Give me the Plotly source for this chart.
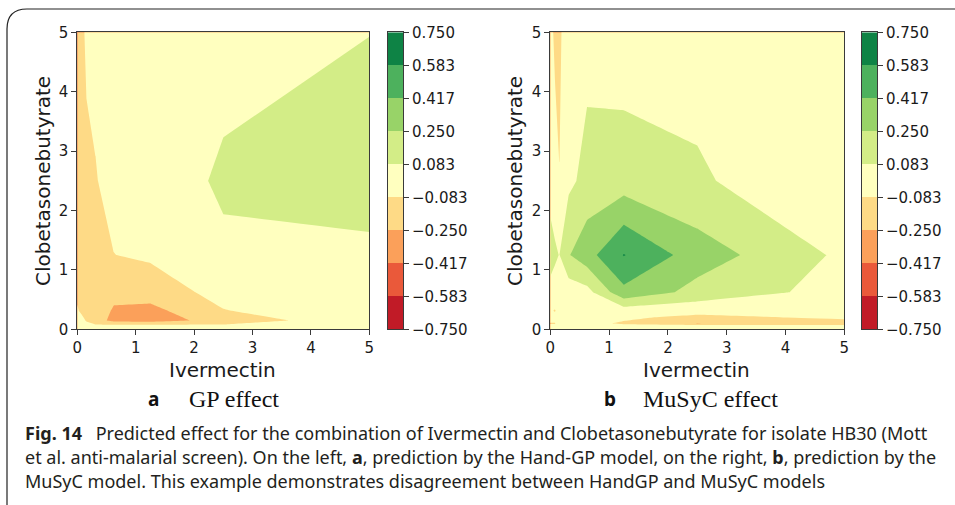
import plotly.graph_objects as go

W, H = 955, 505

# ---------------- data ----------------
# GP effect (panel a): grid of Ivermectin (x) and Clobetasonebutyrate (y)
GP_X = [0, 0.078, 0.156, 0.3125, 0.625, 1.25, 2.5, 5]
GP_Y = [0, 0.075, 0.15, 0.3125, 0.625, 1.25, 2.5, 5]
GP_Z = [
    [0.0, 0.0, 0.0, 0.0, 0.0, 0.0, 0.0, 0.0],
    [-0.02, -0.04, -0.06, -0.075, -0.08, -0.08, -0.075, -0.01],
    [-0.03, -0.06, -0.09, -0.17, -0.30, -0.32, -0.19, 0.05],
    [-0.075, -0.10, -0.12, -0.15, -0.27, -0.30, -0.09, 0.03],
    [-0.10, -0.12, -0.13, -0.15, -0.20, -0.17, -0.03, 0.04],
    [-0.11, -0.12, -0.12, -0.12, -0.085, -0.06, 0.063, 0.049],
    [-0.11, -0.11, -0.10, -0.09, -0.04, 0.02, 0.10, 0.16],
    [-0.09, -0.10, -0.07, -0.05, -0.02, 0.0, 0.043, 0.081],
]

# MuSyC effect (panel b)
MU_X = [0, 0.078, 0.156, 0.3125, 0.625, 1.25, 2.5, 5]
MU_Y = [0, 0.07, 0.1, 0.2, 0.3125, 0.625, 1.25, 2.5, 5]
MU_Z = [
    [0.0, 0.0, 0.0, 0.0, 0.0, 0.0, 0.0, 0.0],
    [-0.07, -0.07, -0.05, -0.03, -0.04, -0.07, -0.08, -0.08],
    [-0.09, -0.09, -0.04, -0.02, -0.05, -0.10, -0.26, -0.14],
    [-0.02, -0.03, -0.03, -0.02, -0.04, -0.06, -0.12, -0.06],
    [-0.06, -0.095, -0.02, -0.01, -0.02, 0.005, -0.03, -0.04],
    [0.056, 0.04, 0.02, -0.012, 0.027, 0.374, 0.196, 0.017],
    [0.12, 0.10, 0.08, 0.24, 0.355, 0.59, 0.333, 0.049],
    [0.049, 0.02, -0.078, 0.046, 0.133, 0.166, 0.10, -0.03],
    [0.0, -0.13, -0.12, 0.05, 0.033, -0.008, 0.03, 0.0],
]

LEVELS = [-0.75, -0.5833, -0.4167, -0.25, -0.0833, 0.0833, 0.25, 0.4167, 0.5833, 0.75]
LEVEL_LABELS = ["\u22120.750", "\u22120.583", "\u22120.417", "\u22120.250", "\u22120.083",
                "0.083", "0.250", "0.417", "0.583", "0.750"]
BAND_COLORS = ["#c11b27", "#ea593a", "#fba05a", "#feda86", "#ffffbf",
               "#d3ed87", "#98d368", "#4db15d", "#0e8345"]
BAND_INDEX = [0, 1, 2, 3, 4, 5, 6, 7, 8]
AXIS_TICKS = [0, 1, 2, 3, 4, 5]

X_TITLE = "Ivermectin"
Y_TITLE = "Clobetasonebutyrate"
CAPTION = [
    "<b>Fig. 14</b>\u2002 Predicted effect for the combination of Ivermectin and Clobetasonebutyrate for isolate HB30 (Mott",
    "et al. anti-malarial screen). On the left, <b>a</b>, prediction by the Hand-GP model, on the right, <b>b</b>, prediction by the",
    "MuSyC model. This example demonstrates disagreement between HandGP and MuSyC models",
]

# ---------------- styling helpers ----------------
def px(x):
    return x / W

def py(y):
    return 1 - y / H

# stepped colour scale (constant colour on each band)
edges = [0, 0.13, 0.24, 0.345, 0.45, 0.55, 0.655, 0.76, 0.865, 1]
CS = []
for k, c in enumerate(BAND_COLORS):
    CS.append([edges[k], c])
    CS.append([edges[k + 1], c])

TICK_FONT = dict(family="DejaVu Sans", size=15, color="#1a1a1a")
LINE_C = "#3a3a3a"

fig = go.Figure()

panels = [
    dict(X=GP_X, Y=GP_Y, Z=GP_Z, xa="x", ya="y", cxa="x2", cya="y2",
         dom=(77.3, 369.3), cdom=(388, 403)),
    dict(X=MU_X, Y=MU_Y, Z=MU_Z, xa="x3", ya="y3", cxa="x4", cya="y4",
         dom=(550.3, 844.3), cdom=(862, 877)),
]
ydom = [py(329.3), py(32.3)]

layout_axes = {}
for i, p in enumerate(panels):
    fig.add_trace(go.Contour(
        x=p["X"], y=p["Y"], z=p["Z"], xaxis=p["xa"], yaxis=p["ya"],
        colorscale=CS, zmin=-0.75, zmax=0.75, zauto=False,
        autocontour=False,
        contours=dict(start=-0.75, end=0.75, size=1.5 / 9, coloring="fill", showlines=False),
        line=dict(width=0, smoothing=0),
        showscale=False, hoverinfo="skip",
    ))
    # colour bar drawn as heatmap on its own axes
    fig.add_trace(go.Heatmap(
        x=[0], y=LEVELS, z=[[b] for b in BAND_INDEX],
        xaxis=p["cxa"], yaxis=p["cya"],
        colorscale=CS, zmin=-0.5, zmax=8.5, showscale=False, hoverinfo="skip",
    ))
    n = 1 + 2 * i
    xk = "xaxis" if n == 1 else f"xaxis{n}"
    yk = "yaxis" if n == 1 else f"yaxis{n}"
    layout_axes[xk] = dict(
        domain=[px(p["dom"][0]), px(p["dom"][1])], anchor=p["ya"], range=[0, 5],
        tickvals=AXIS_TICKS, ticks="outside", ticklen=5, tickwidth=1, tickcolor=LINE_C,
        showline=True, linecolor=LINE_C, linewidth=1, mirror=True,
        showgrid=False, zeroline=False, tickfont=TICK_FONT,
    )
    layout_axes[yk] = dict(
        domain=ydom, anchor=p["xa"], range=[0, 5],
        tickvals=AXIS_TICKS, ticks="outside", ticklen=5, tickwidth=1, tickcolor=LINE_C,
        showline=True, linecolor=LINE_C, linewidth=1, mirror=True,
        showgrid=False, zeroline=False, tickfont=TICK_FONT,
    )
    cxk = f"xaxis{n + 1}"
    cyk = f"yaxis{n + 1}"
    layout_axes[cxk] = dict(
        domain=[px(p["cdom"][0]), px(p["cdom"][1])], anchor=p["cya"], range=[-0.5, 0.5],
        showticklabels=False, ticks="", showline=True, linecolor=LINE_C, linewidth=1,
        mirror=True, showgrid=False, zeroline=False,
    )
    layout_axes[cyk] = dict(
        domain=ydom, anchor=p["cxa"], range=[-0.75, 0.75], side="right",
        tickvals=LEVELS, ticktext=LEVEL_LABELS, ticks="outside", ticklen=5, tickwidth=1,
        tickcolor=LINE_C, showline=True, linecolor=LINE_C, linewidth=1, mirror=True,
        showgrid=False, zeroline=False, tickfont=TICK_FONT,
    )

annotations = []
TITLE_FONT = dict(family="DejaVu Sans", size=20, color="#1a1a1a")
for cx in (222.5, 696.7):
    annotations.append(dict(text=X_TITLE, x=px(cx), y=py(370), xref="paper", yref="paper",
                            showarrow=False, xanchor="center", yanchor="middle", font=TITLE_FONT))
for cx in (43, 515):
    annotations.append(dict(text=Y_TITLE, x=px(cx), y=py(181), xref="paper", yref="paper",
                            showarrow=False, xanchor="center", yanchor="middle", textangle=-90,
                            font=TITLE_FONT))

# panel subtitles
SUB_LETTER_FONT = dict(family="Noto Sans", size=19, color="#111")
SUB_TEXT_FONT = dict(family="Liberation Serif", size=24, color="#111")
for letter, lx, txt, tx in (("a", 153, "GP effect", 187), ("b", 609.5, "MuSyC effect", 641)):
    annotations.append(dict(text=f"<b>{letter}</b>", x=px(lx), y=py(399), xref="paper", yref="paper",
                            showarrow=False, xanchor="center", yanchor="middle", font=SUB_LETTER_FONT))
    annotations.append(dict(text=txt, x=px(tx), y=py(399), xref="paper", yref="paper",
                            showarrow=False, xanchor="left", yanchor="middle", font=SUB_TEXT_FONT))

CAP_FONT = dict(family="Noto Sans", size=18, color="#231f20")
for line, base in zip(CAPTION, (438, 462.5, 486.5)):
    annotations.append(dict(text=line, x=px(23), y=py(base - 5.5), xref="paper", yref="paper",
                            showarrow=False, xanchor="left", yanchor="middle", font=CAP_FONT))

# rounded frame (top + left edges)
frame = (f"M {px(7)},{py(505)} L {px(7)},{py(29)} Q {px(7)},{py(9)} {px(27)},{py(9)} "
         f"L {px(955)},{py(9)}")
shapes = [dict(type="path", xref="paper", yref="paper", path=frame,
               line=dict(color="#222", width=1.2))]

fig.update_layout(
    width=W, height=H, margin=dict(l=0, r=0, t=0, b=0, pad=0, autoexpand=False),
    paper_bgcolor="white", plot_bgcolor="white", showlegend=False,
    annotations=annotations, shapes=shapes, **layout_axes,
)

fig.write_html("out.html")
